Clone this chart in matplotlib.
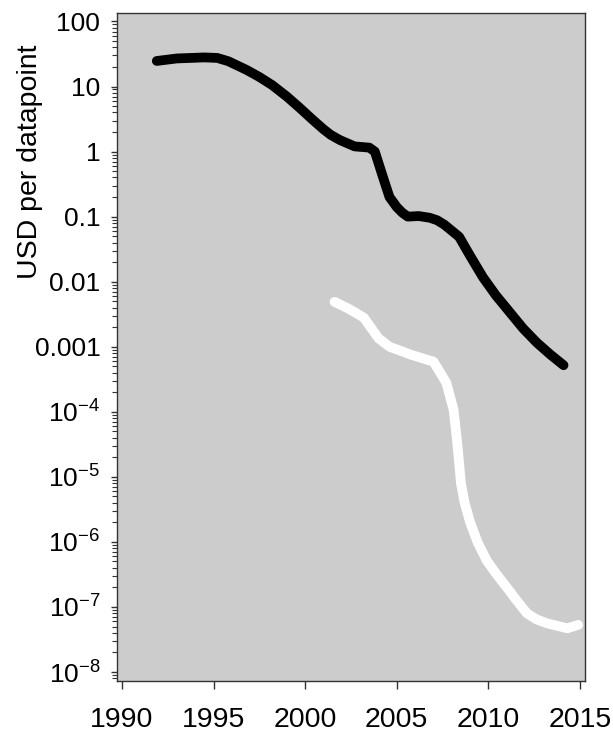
import matplotlib
matplotlib.use("Agg")
import matplotlib.pyplot as plt
from matplotlib.ticker import FixedLocator, LogLocator, NullFormatter

plt.rcParams['font.family'] = ['Liberation Sans', 'DejaVu Sans']
plt.rcParams['mathtext.fontset'] = 'custom'
plt.rcParams['mathtext.rm'] = 'Liberation Sans'
plt.rcParams['mathtext.it'] = 'Liberation Sans'
plt.rcParams['mathtext.default'] = 'regular'

# cost per datapoint, first series (black)
black_years = [1991.9, 1993.0, 1994.5, 1995.2, 1995.8, 1996.3, 1996.8, 1997.5,
               1998.2, 1999.0, 1999.7, 2000.4, 2001.0, 2001.4, 2001.9, 2002.7,
               2003.5, 2003.8, 2004.25, 2004.6, 2005.0, 2005.3, 2005.6, 2006.2,
               2006.8, 2007.2, 2007.6, 2008.4, 2009.0, 2009.7, 2010.4, 2011.2,
               2011.9, 2012.65, 2013.4, 2014.1]
black_usd = [24.7, 27, 28, 27.5, 24.5, 21, 18, 14,
             10.5, 7, 4.7, 3.1, 2.2, 1.8, 1.5, 1.2,
             1.15, 1.0, 0.4, 0.2, 0.14, 0.115, 0.1, 0.102,
             0.096, 0.088, 0.075, 0.049, 0.025, 0.0117, 0.0062, 0.0033,
             0.0019, 0.00115, 0.00075, 0.00052]

# cost per datapoint, second series (white)
white_years = [2001.6, 2002.4, 2003.2, 2004.0, 2004.6, 2005.8, 2007.0, 2007.7,
               2008.1, 2008.3, 2008.5, 2008.7, 2009.0, 2009.4, 2009.9, 2010.4,
               2011.0, 2011.6, 2012.1, 2012.6, 2013.2, 2014.3, 2014.9]
white_usd = [0.0049, 0.0038, 0.0028, 0.00135, 0.001, 0.00075, 0.00059, 0.00028,
             1.07e-4, 3.3e-5, 8e-6, 4e-6, 2e-6, 1e-6, 5.2e-7, 3.3e-7,
             2e-7, 1.2e-7, 8e-8, 6.5e-8, 5.6e-8, 4.7e-8, 5.3e-8]

x_ticks = [1990, 1995, 2000, 2005, 2010, 2015]
y_ticks = [1e2, 1e1, 1, 1e-1, 1e-2, 1e-3, 1e-4, 1e-5, 1e-6, 1e-7, 1e-8]
y_labels = ['100', '10', '1', '0.1', '0.01', '0.001',
            '$10^{-4}$', '$10^{-5}$', '$10^{-6}$', '$10^{-7}$', '$10^{-8}$']

fig = plt.figure(figsize=(6.13, 7.33), dpi=100)
ax = fig.add_axes([0.1909, 0.0709, 0.7634, 0.9114])
ax.set_facecolor('#cccccc')

ax.plot(black_years, black_usd, color='black', lw=7,
        solid_capstyle='round', solid_joinstyle='round')
ax.plot(white_years, white_usd, color='white', lw=7,
        solid_capstyle='round', solid_joinstyle='round')

ax.set_yscale('log')
ax.set_xlim(1989.73, 2015.27)
ax.set_ylim(7.27e-9, 135)

ax.xaxis.set_major_locator(FixedLocator(x_ticks))
ax.set_xticklabels([str(t) for t in x_ticks])
ax.yaxis.set_major_locator(FixedLocator(y_ticks))
ax.set_yticklabels(y_labels)
ax.yaxis.set_minor_locator(LogLocator(base=10, subs=range(2, 10), numticks=20))
ax.yaxis.set_minor_formatter(NullFormatter())

ax.tick_params(axis='x', length=6, width=1, pad=13, labelsize=20.5, color='#333333')
ax.tick_params(axis='y', which='major', length=4, width=1, pad=8, labelsize=19,
               color='#333333')
ax.tick_params(axis='y', which='minor', length=3.5, width=0.8, color='#333333')

for s in ax.spines.values():
    s.set_color('#333333')
    s.set_linewidth(1)

fig.text(30 / 613, 1 - 162 / 733, 'USD per datapoint', rotation=90,
         ha='center', va='center', fontsize=20.5)

fig.savefig('out.png', dpi=100)
